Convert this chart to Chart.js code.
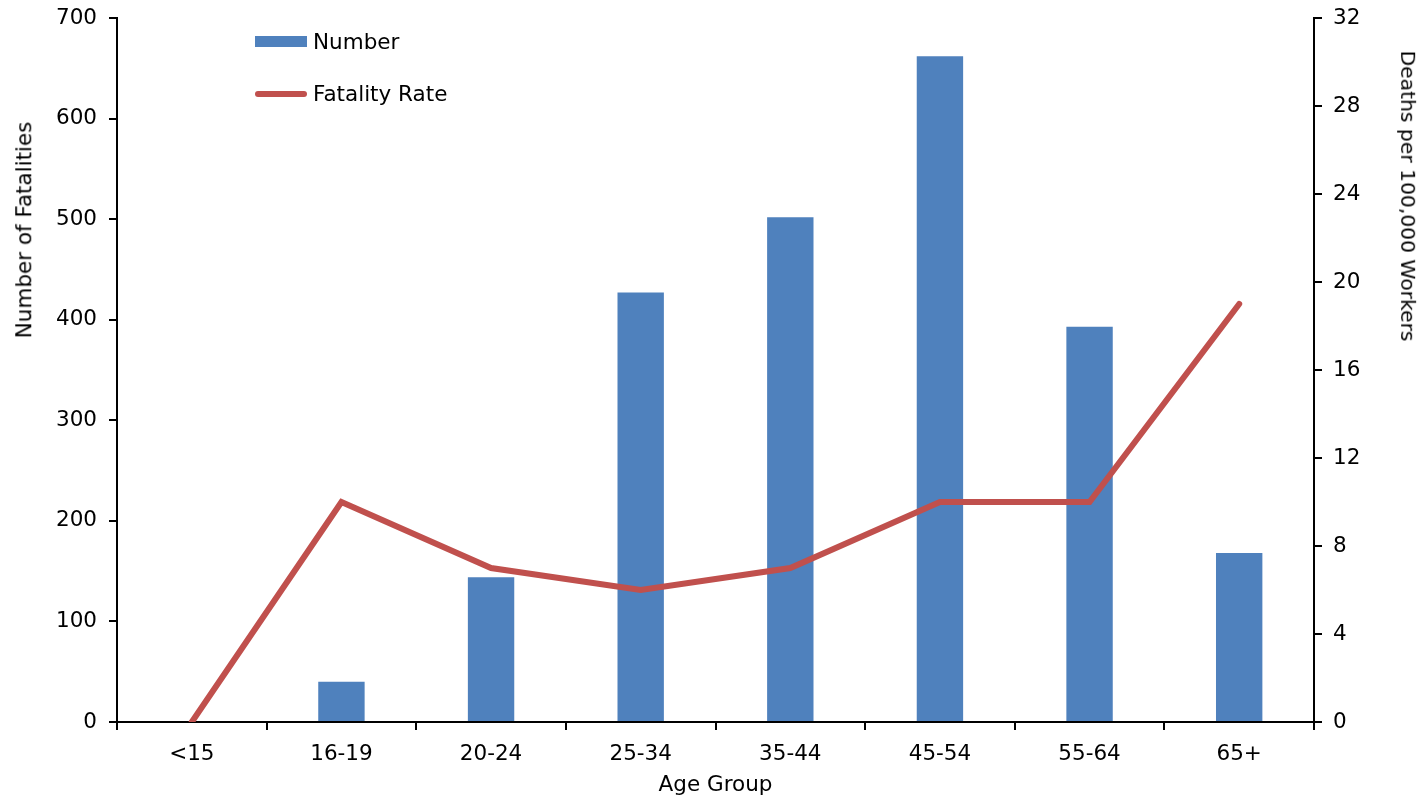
<!DOCTYPE html>
<html>
<head>
<meta charset="utf-8">
<script src="https://cdn.jsdelivr.net/npm/chart.js@4"></script>
<style>
  html, body { margin: 0; padding: 0; background: #fff; }
  #wrap { position: relative; width: 1421px; height: 798px; }
  .legend { position: absolute; left: 255px; font: 21.5px "DejaVu Sans", sans-serif; color: #000; display: flex; align-items: center; }
  .legend .swatch { width: 52px; margin-right: 6px; }
  .legend .bar { height: 11px; background: #4F81BD; }
  .legend .line { height: 6px; background: #C0504D; border-radius: 3px; }
  .axis-title { position: absolute; font: 21.5px "DejaVu Sans", sans-serif; color: #000; white-space: nowrap; line-height: 1; }
</style>
</head>
<body>
<div id="wrap">
  <canvas id="chart" width="1421" height="798"></canvas>
  <div class="legend" style="top:29px;"><div class="swatch bar"></div>Number</div>
  <div class="legend" style="top:81px;"><div class="swatch line"></div>Fatality Rate</div>
  <div class="axis-title" style="left:24px; top:230px; transform: translate(-50%, -50%) rotate(-90deg);">Number of Fatalities</div>
  <div class="axis-title" style="left:1408px; top:196px; font-size:20.3px; transform: translate(-50%, -50%) rotate(90deg);">Deaths per 100,000 Workers</div>
</div>
<script>
// Chart data
const ageGroups = ['<15', '16-19', '20-24', '25-34', '35-44', '45-54', '55-64', '65+'];
const fatalityCounts = [0, 40, 144, 427, 502, 662, 393, 168];
const fatalityRates = [0, 10, 7, 6, 7, 10, 10, 19];

const FONT = { family: '"DejaVu Sans", sans-serif', size: 21.5 };

// fixed axis widths, and no extra room reserved for the end labels
function fixWidth(width) {
  return scale => {
    scale.width = width;
    scale.paddingTop = 0;
    scale.paddingBottom = 0;
  };
}

const chartConfig = {
  data: {
    labels: ageGroups,
    datasets: [
      {
        type: 'line',
        label: 'Fatality Rate',
        data: fatalityRates,
        yAxisID: 'yRate',
        borderColor: '#C0504D',
        borderWidth: 6,
        pointRadius: 0,
        tension: 0,
        borderCapStyle: 'round',
        borderJoinStyle: 'miter',
        order: 0
      },
      {
        type: 'bar',
        label: 'Number',
        data: fatalityCounts,
        yAxisID: 'y',
        backgroundColor: '#4F81BD',
        barPercentage: 0.31,
        categoryPercentage: 1,
        order: 1
      }
    ]
  },
  options: {
    responsive: false,
    animation: false,
    layout: { padding: { top: 18, left: 0, right: 0, bottom: 0 } },
    plugins: {
      legend: { display: false },
      tooltip: { enabled: false }
    },
    scales: {
      x: {
        offset: true,
        grid: { display: true, drawOnChartArea: false, offset: true, color: '#000', lineWidth: 2, tickLength: 8 },
        border: { display: true, color: '#000', width: 2 },
        ticks: { color: '#000', font: FONT, padding: 12, maxRotation: 0 },
        title: { display: true, text: 'Age Group', color: '#000', font: FONT, padding: { top: 0, bottom: 0 } },
        afterFit: scale => { scale.height = 76; }
      },
      y: {
        position: 'left',
        min: 0,
        max: 700,
        ticks: { stepSize: 100, color: '#000', font: FONT, padding: 12 },
        grid: { display: true, drawOnChartArea: false, color: '#000', lineWidth: 2, tickLength: 8 },
        border: { display: true, color: '#000', width: 2 },
        afterFit: fixWidth(117)
      },
      yRate: {
        position: 'right',
        min: 0,
        max: 32,
        ticks: { stepSize: 4, color: '#000', font: FONT, padding: 11 },
        grid: { display: true, drawOnChartArea: false, color: '#000', lineWidth: 2, tickLength: 8 },
        border: { display: true, color: '#000', width: 2 },
        afterFit: fixWidth(107)
      }
    }
  }
};

new Chart(document.getElementById('chart'), chartConfig);
</script>
</body>
</html>
